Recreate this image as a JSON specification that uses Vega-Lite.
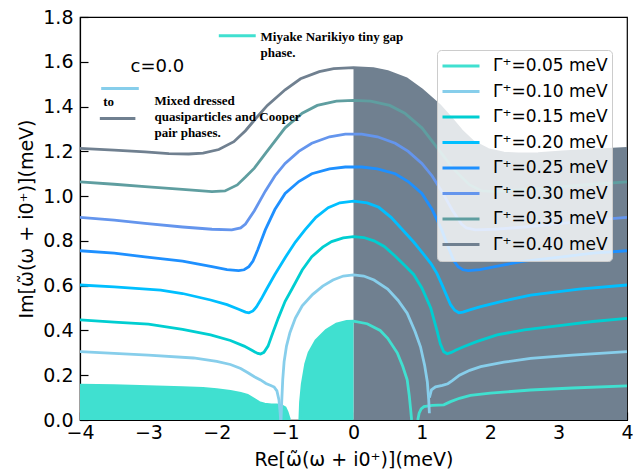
{
  "$schema": "https://vega.github.io/schema/vega-lite/v6.json",
  "width": 547,
  "height": 403,
  "autosize": "none",
  "padding": {"left": 80, "top": 17, "right": 14, "bottom": 53},
  "background": "white",
  "config": {
    "view": {"stroke": "black", "strokeWidth": 1.2},
    "font": "DejaVu Sans"
  },
  "datasets": {
    "curves": [
      {"g":"0.05","s":"a","x":-4,"y":0.156},{"g":"0.05","s":"a","x":-3.5,"y":0.153},{"g":"0.05","s":"a","x":-3,"y":0.149},{"g":"0.05","s":"a","x":-2.5,"y":0.145},{"g":"0.05","s":"a","x":-2.2,"y":0.141},{"g":"0.05","s":"a","x":-2,"y":0.136},{"g":"0.05","s":"a","x":-1.8,"y":0.128},{"g":"0.05","s":"a","x":-1.65,"y":0.119},{"g":"0.05","s":"a","x":-1.55,"y":0.11},{"g":"0.05","s":"a","x":-1.45,"y":0.092},{"g":"0.05","s":"a","x":-1.38,"y":0.078},{"g":"0.05","s":"a","x":-1.3,"y":0.071},{"g":"0.05","s":"a","x":-1.2,"y":0.068},{"g":"0.05","s":"a","x":-1.12,"y":0.067},{"g":"0.05","s":"a","x":-1.05,"y":0.063},{"g":"0.05","s":"a","x":-1.0,"y":0.055},{"g":"0.05","s":"a","x":-0.97,"y":0.035},{"g":"0.05","s":"a","x":-0.95,"y":0.015},{"g":"0.05","s":"a","x":-0.935,"y":0},
      {"g":"0.05","s":"b","x":-0.785,"y":0},{"g":"0.05","s":"b","x":-0.775,"y":0.08},{"g":"0.05","s":"b","x":-0.75,"y":0.16},{"g":"0.05","s":"b","x":-0.7,"y":0.25},{"g":"0.05","s":"b","x":-0.65,"y":0.3},{"g":"0.05","s":"b","x":-0.55,"y":0.355},{"g":"0.05","s":"b","x":-0.4,"y":0.4},{"g":"0.05","s":"b","x":-0.25,"y":0.428},{"g":"0.05","s":"b","x":-0.1,"y":0.44},{"g":"0.05","s":"b","x":0,"y":0.442},{"g":"0.05","s":"b","x":0.2,"y":0.43},{"g":"0.05","s":"b","x":0.39,"y":0.4},{"g":"0.05","s":"b","x":0.5,"y":0.365},{"g":"0.05","s":"b","x":0.64,"y":0.3},{"g":"0.05","s":"b","x":0.72,"y":0.24},{"g":"0.05","s":"b","x":0.785,"y":0.18},{"g":"0.05","s":"b","x":0.815,"y":0.11},{"g":"0.05","s":"b","x":0.835,"y":0.05},{"g":"0.05","s":"b","x":0.85,"y":0},
      {"g":"0.05","s":"c","x":0.94,"y":0},{"g":"0.05","s":"c","x":0.96,"y":0.03},{"g":"0.05","s":"c","x":0.99,"y":0.05},{"g":"0.05","s":"c","x":1.03,"y":0.06},{"g":"0.05","s":"c","x":1.15,"y":0.065},{"g":"0.05","s":"c","x":1.32,"y":0.068},{"g":"0.05","s":"c","x":1.42,"y":0.082},{"g":"0.05","s":"c","x":1.55,"y":0.097},{"g":"0.05","s":"c","x":1.71,"y":0.11},{"g":"0.05","s":"c","x":2,"y":0.12},{"g":"0.05","s":"c","x":2.59,"y":0.134},{"g":"0.05","s":"c","x":3.2,"y":0.143},{"g":"0.05","s":"c","x":4,"y":0.152},

      {"g":"0.10","s":"a","x":-4,"y":0.305},{"g":"0.10","s":"a","x":-3.5,"y":0.298},{"g":"0.10","s":"a","x":-3,"y":0.29},{"g":"0.10","s":"a","x":-2.34,"y":0.277},{"g":"0.10","s":"a","x":-2,"y":0.262},{"g":"0.10","s":"a","x":-1.8,"y":0.248},{"g":"0.10","s":"a","x":-1.65,"y":0.23},{"g":"0.10","s":"a","x":-1.55,"y":0.212},{"g":"0.10","s":"a","x":-1.45,"y":0.193},{"g":"0.10","s":"a","x":-1.36,"y":0.179},{"g":"0.10","s":"a","x":-1.28,"y":0.163},{"g":"0.10","s":"a","x":-1.21,"y":0.154},{"g":"0.10","s":"a","x":-1.16,"y":0.147},{"g":"0.10","s":"a","x":-1.12,"y":0.13},{"g":"0.10","s":"a","x":-1.09,"y":0.09},{"g":"0.10","s":"a","x":-1.075,"y":0.04},{"g":"0.10","s":"a","x":-1.065,"y":0},
      {"g":"0.10","s":"b","x":-1.06,"y":0},{"g":"0.10","s":"b","x":-1.05,"y":0.08},{"g":"0.10","s":"b","x":-1.035,"y":0.18},{"g":"0.10","s":"b","x":-1.015,"y":0.26},{"g":"0.10","s":"b","x":-0.98,"y":0.33},{"g":"0.10","s":"b","x":-0.93,"y":0.39},{"g":"0.10","s":"b","x":-0.85,"y":0.455},{"g":"0.10","s":"b","x":-0.75,"y":0.51},{"g":"0.10","s":"b","x":-0.6,"y":0.56},{"g":"0.10","s":"b","x":-0.45,"y":0.598},{"g":"0.10","s":"b","x":-0.3,"y":0.625},{"g":"0.10","s":"b","x":-0.15,"y":0.643},{"g":"0.10","s":"b","x":0,"y":0.648},{"g":"0.10","s":"b","x":0.15,"y":0.643},{"g":"0.10","s":"b","x":0.3,"y":0.625},{"g":"0.10","s":"b","x":0.5,"y":0.585},{"g":"0.10","s":"b","x":0.65,"y":0.535},{"g":"0.10","s":"b","x":0.785,"y":0.477},{"g":"0.10","s":"b","x":0.9,"y":0.395},{"g":"0.10","s":"b","x":0.98,"y":0.327},{"g":"0.10","s":"b","x":1.04,"y":0.245},{"g":"0.10","s":"b","x":1.08,"y":0.17},{"g":"0.10","s":"b","x":1.1,"y":0.09},{"g":"0.10","s":"b","x":1.11,"y":0.03},
      {"g":"0.10","s":"c","x":1.11,"y":0.1},{"g":"0.10","s":"c","x":1.14,"y":0.135},{"g":"0.10","s":"c","x":1.2,"y":0.148},{"g":"0.10","s":"c","x":1.3,"y":0.155},{"g":"0.10","s":"c","x":1.38,"y":0.162},{"g":"0.10","s":"c","x":1.45,"y":0.177},{"g":"0.10","s":"c","x":1.55,"y":0.2},{"g":"0.10","s":"c","x":1.7,"y":0.222},{"g":"0.10","s":"c","x":1.86,"y":0.238},{"g":"0.10","s":"c","x":2.2,"y":0.258},{"g":"0.10","s":"c","x":2.59,"y":0.275},{"g":"0.10","s":"c","x":3.2,"y":0.29},{"g":"0.10","s":"c","x":3.6,"y":0.298},{"g":"0.10","s":"c","x":4,"y":0.305},

      {"g":"0.15","s":"a","x":-4,"y":0.447},{"g":"0.15","s":"a","x":-3.5,"y":0.437},{"g":"0.15","s":"a","x":-3,"y":0.428},{"g":"0.15","s":"a","x":-2.5,"y":0.405},{"g":"0.15","s":"a","x":-2.09,"y":0.38},{"g":"0.15","s":"a","x":-1.8,"y":0.355},{"g":"0.15","s":"a","x":-1.6,"y":0.33},{"g":"0.15","s":"a","x":-1.48,"y":0.31},{"g":"0.15","s":"a","x":-1.4,"y":0.297},{"g":"0.15","s":"a","x":-1.36,"y":0.295},{"g":"0.15","s":"a","x":-1.31,"y":0.302},{"g":"0.15","s":"a","x":-1.25,"y":0.33},{"g":"0.15","s":"a","x":-1.18,"y":0.39},{"g":"0.15","s":"a","x":-1.1,"y":0.455},{"g":"0.15","s":"a","x":-1.0,"y":0.53},{"g":"0.15","s":"a","x":-0.9,"y":0.585},{"g":"0.15","s":"a","x":-0.75,"y":0.67},{"g":"0.15","s":"a","x":-0.61,"y":0.729},{"g":"0.15","s":"a","x":-0.45,"y":0.772},{"g":"0.15","s":"a","x":-0.32,"y":0.797},{"g":"0.15","s":"a","x":-0.15,"y":0.813},{"g":"0.15","s":"a","x":0,"y":0.819},{"g":"0.15","s":"a","x":0.15,"y":0.815},{"g":"0.15","s":"a","x":0.3,"y":0.8},{"g":"0.15","s":"a","x":0.45,"y":0.775},{"g":"0.15","s":"a","x":0.6,"y":0.735},{"g":"0.15","s":"a","x":0.75,"y":0.69},{"g":"0.15","s":"a","x":0.88,"y":0.65},{"g":"0.15","s":"a","x":1.0,"y":0.59},{"g":"0.15","s":"a","x":1.13,"y":0.5},{"g":"0.15","s":"a","x":1.22,"y":0.4},{"g":"0.15","s":"a","x":1.27,"y":0.34},{"g":"0.15","s":"a","x":1.32,"y":0.305},{"g":"0.15","s":"a","x":1.37,"y":0.296},{"g":"0.15","s":"a","x":1.43,"y":0.302},{"g":"0.15","s":"a","x":1.5,"y":0.313},{"g":"0.15","s":"a","x":1.61,"y":0.327},{"g":"0.15","s":"a","x":1.8,"y":0.35},{"g":"0.15","s":"a","x":2.1,"y":0.38},{"g":"0.15","s":"a","x":2.5,"y":0.403},{"g":"0.15","s":"a","x":3.07,"y":0.424},{"g":"0.15","s":"a","x":3.5,"y":0.44},{"g":"0.15","s":"a","x":4,"y":0.454},

      {"g":"0.20","s":"a","x":-4,"y":0.603},{"g":"0.20","s":"a","x":-3.5,"y":0.595},{"g":"0.20","s":"a","x":-2.82,"y":0.58},{"g":"0.20","s":"a","x":-2.5,"y":0.565},{"g":"0.20","s":"a","x":-2.09,"y":0.536},{"g":"0.20","s":"a","x":-1.85,"y":0.515},{"g":"0.20","s":"a","x":-1.68,"y":0.495},{"g":"0.20","s":"a","x":-1.58,"y":0.482},{"g":"0.20","s":"a","x":-1.53,"y":0.479},{"g":"0.20","s":"a","x":-1.47,"y":0.487},{"g":"0.20","s":"a","x":-1.42,"y":0.505},{"g":"0.20","s":"a","x":-1.35,"y":0.54},{"g":"0.20","s":"a","x":-1.27,"y":0.585},{"g":"0.20","s":"a","x":-1.15,"y":0.65},{"g":"0.20","s":"a","x":-1.0,"y":0.725},{"g":"0.20","s":"a","x":-0.85,"y":0.795},{"g":"0.20","s":"a","x":-0.71,"y":0.849},{"g":"0.20","s":"a","x":-0.55,"y":0.905},{"g":"0.20","s":"a","x":-0.37,"y":0.948},{"g":"0.20","s":"a","x":-0.2,"y":0.97},{"g":"0.20","s":"a","x":0,"y":0.978},{"g":"0.20","s":"a","x":0.2,"y":0.97},{"g":"0.20","s":"a","x":0.37,"y":0.95},{"g":"0.20","s":"a","x":0.55,"y":0.905},{"g":"0.20","s":"a","x":0.71,"y":0.852},{"g":"0.20","s":"a","x":0.88,"y":0.795},{"g":"0.20","s":"a","x":1.0,"y":0.75},{"g":"0.20","s":"a","x":1.13,"y":0.7},{"g":"0.20","s":"a","x":1.22,"y":0.655},{"g":"0.20","s":"a","x":1.3,"y":0.6},{"g":"0.20","s":"a","x":1.37,"y":0.55},{"g":"0.20","s":"a","x":1.42,"y":0.515},{"g":"0.20","s":"a","x":1.48,"y":0.49},{"g":"0.20","s":"a","x":1.54,"y":0.479},{"g":"0.20","s":"a","x":1.6,"y":0.482},{"g":"0.20","s":"a","x":1.7,"y":0.492},{"g":"0.20","s":"a","x":1.86,"y":0.506},{"g":"0.20","s":"a","x":2.2,"y":0.532},{"g":"0.20","s":"a","x":2.59,"y":0.558},{"g":"0.20","s":"a","x":3.3,"y":0.585},{"g":"0.20","s":"a","x":4,"y":0.603},

      {"g":"0.25","s":"a","x":-4,"y":0.756},{"g":"0.25","s":"a","x":-3.5,"y":0.745},{"g":"0.25","s":"a","x":-3.05,"y":0.729},{"g":"0.25","s":"a","x":-2.5,"y":0.71},{"g":"0.25","s":"a","x":-2.07,"y":0.685},{"g":"0.25","s":"a","x":-1.85,"y":0.672},{"g":"0.25","s":"a","x":-1.68,"y":0.667},{"g":"0.25","s":"a","x":-1.6,"y":0.671},{"g":"0.25","s":"a","x":-1.53,"y":0.685},{"g":"0.25","s":"a","x":-1.47,"y":0.71},{"g":"0.25","s":"a","x":-1.4,"y":0.76},{"g":"0.25","s":"a","x":-1.29,"y":0.849},{"g":"0.25","s":"a","x":-1.15,"y":0.94},{"g":"0.25","s":"a","x":-1.0,"y":1.012},{"g":"0.25","s":"a","x":-0.8,"y":1.065},{"g":"0.25","s":"a","x":-0.61,"y":1.1},{"g":"0.25","s":"a","x":-0.35,"y":1.122},{"g":"0.25","s":"a","x":-0.12,"y":1.13},{"g":"0.25","s":"a","x":0,"y":1.13},{"g":"0.25","s":"a","x":0.12,"y":1.13},{"g":"0.25","s":"a","x":0.35,"y":1.122},{"g":"0.25","s":"a","x":0.61,"y":1.1},{"g":"0.25","s":"a","x":0.8,"y":1.065},{"g":"0.25","s":"a","x":1.0,"y":1.012},{"g":"0.25","s":"a","x":1.15,"y":0.94},{"g":"0.25","s":"a","x":1.29,"y":0.849},{"g":"0.25","s":"a","x":1.4,"y":0.76},{"g":"0.25","s":"a","x":1.47,"y":0.71},{"g":"0.25","s":"a","x":1.53,"y":0.685},{"g":"0.25","s":"a","x":1.6,"y":0.671},{"g":"0.25","s":"a","x":1.68,"y":0.667},{"g":"0.25","s":"a","x":1.85,"y":0.672},{"g":"0.25","s":"a","x":2.07,"y":0.685},{"g":"0.25","s":"a","x":2.5,"y":0.71},{"g":"0.25","s":"a","x":3.05,"y":0.729},{"g":"0.25","s":"a","x":3.5,"y":0.745},{"g":"0.25","s":"a","x":4,"y":0.756},

      {"g":"0.30","s":"a","x":-4,"y":0.905},{"g":"0.30","s":"a","x":-3.5,"y":0.893},{"g":"0.30","s":"a","x":-3.05,"y":0.878},{"g":"0.30","s":"a","x":-2.5,"y":0.862},{"g":"0.30","s":"a","x":-2.07,"y":0.852},{"g":"0.30","s":"a","x":-1.78,"y":0.849},{"g":"0.30","s":"a","x":-1.65,"y":0.858},{"g":"0.30","s":"a","x":-1.58,"y":0.875},{"g":"0.30","s":"a","x":-1.45,"y":0.935},{"g":"0.30","s":"a","x":-1.29,"y":1.022},{"g":"0.30","s":"a","x":-1.15,"y":1.09},{"g":"0.30","s":"a","x":-1.0,"y":1.146},{"g":"0.30","s":"a","x":-0.8,"y":1.2},{"g":"0.30","s":"a","x":-0.61,"y":1.236},{"g":"0.30","s":"a","x":-0.35,"y":1.265},{"g":"0.30","s":"a","x":-0.12,"y":1.277},{"g":"0.30","s":"a","x":0,"y":1.277},{"g":"0.30","s":"a","x":0.12,"y":1.277},{"g":"0.30","s":"a","x":0.35,"y":1.265},{"g":"0.30","s":"a","x":0.61,"y":1.236},{"g":"0.30","s":"a","x":0.8,"y":1.2},{"g":"0.30","s":"a","x":1.0,"y":1.146},{"g":"0.30","s":"a","x":1.15,"y":1.09},{"g":"0.30","s":"a","x":1.29,"y":1.022},{"g":"0.30","s":"a","x":1.45,"y":0.935},{"g":"0.30","s":"a","x":1.58,"y":0.875},{"g":"0.30","s":"a","x":1.65,"y":0.858},{"g":"0.30","s":"a","x":1.78,"y":0.849},{"g":"0.30","s":"a","x":2.07,"y":0.852},{"g":"0.30","s":"a","x":2.5,"y":0.862},{"g":"0.30","s":"a","x":3.05,"y":0.878},{"g":"0.30","s":"a","x":3.5,"y":0.893},{"g":"0.30","s":"a","x":4,"y":0.905},

      {"g":"0.35","s":"a","x":-4,"y":1.064},{"g":"0.35","s":"a","x":-3.5,"y":1.053},{"g":"0.35","s":"a","x":-3.05,"y":1.042},{"g":"0.35","s":"a","x":-2.5,"y":1.03},{"g":"0.35","s":"a","x":-2.07,"y":1.02},{"g":"0.35","s":"a","x":-1.88,"y":1.023},{"g":"0.35","s":"a","x":-1.7,"y":1.05},{"g":"0.35","s":"a","x":-1.58,"y":1.085},{"g":"0.35","s":"a","x":-1.45,"y":1.125},{"g":"0.35","s":"a","x":-1.29,"y":1.19},{"g":"0.35","s":"a","x":-1.0,"y":1.305},{"g":"0.35","s":"a","x":-0.75,"y":1.37},{"g":"0.35","s":"a","x":-0.53,"y":1.405},{"g":"0.35","s":"a","x":-0.25,"y":1.424},{"g":"0.35","s":"a","x":0,"y":1.428},{"g":"0.35","s":"a","x":0.25,"y":1.424},{"g":"0.35","s":"a","x":0.53,"y":1.405},{"g":"0.35","s":"a","x":0.75,"y":1.37},{"g":"0.35","s":"a","x":1.0,"y":1.305},{"g":"0.35","s":"a","x":1.29,"y":1.19},{"g":"0.35","s":"a","x":1.45,"y":1.125},{"g":"0.35","s":"a","x":1.58,"y":1.085},{"g":"0.35","s":"a","x":1.7,"y":1.05},{"g":"0.35","s":"a","x":1.88,"y":1.023},{"g":"0.35","s":"a","x":2.07,"y":1.02},{"g":"0.35","s":"a","x":2.5,"y":1.03},{"g":"0.35","s":"a","x":3.05,"y":1.042},{"g":"0.35","s":"a","x":3.5,"y":1.053},{"g":"0.35","s":"a","x":4,"y":1.064},

      {"g":"0.40","s":"a","x":-4,"y":1.213},{"g":"0.40","s":"a","x":-3.5,"y":1.205},{"g":"0.40","s":"a","x":-3.05,"y":1.198},{"g":"0.40","s":"a","x":-2.7,"y":1.19},{"g":"0.40","s":"a","x":-2.41,"y":1.188},{"g":"0.40","s":"a","x":-2.2,"y":1.192},{"g":"0.40","s":"a","x":-1.97,"y":1.208},{"g":"0.40","s":"a","x":-1.75,"y":1.243},{"g":"0.40","s":"a","x":-1.58,"y":1.292},{"g":"0.40","s":"a","x":-1.42,"y":1.35},{"g":"0.40","s":"a","x":-1.26,"y":1.405},{"g":"0.40","s":"a","x":-1.0,"y":1.475},{"g":"0.40","s":"a","x":-0.775,"y":1.524},{"g":"0.40","s":"a","x":-0.5,"y":1.556},{"g":"0.40","s":"a","x":-0.29,"y":1.569},{"g":"0.40","s":"a","x":0,"y":1.574},{"g":"0.40","s":"a","x":0.29,"y":1.569},{"g":"0.40","s":"a","x":0.5,"y":1.556},{"g":"0.40","s":"a","x":0.775,"y":1.524},{"g":"0.40","s":"a","x":1.0,"y":1.475},{"g":"0.40","s":"a","x":1.26,"y":1.405},{"g":"0.40","s":"a","x":1.42,"y":1.35},{"g":"0.40","s":"a","x":1.58,"y":1.292},{"g":"0.40","s":"a","x":1.75,"y":1.243},{"g":"0.40","s":"a","x":1.97,"y":1.208},{"g":"0.40","s":"a","x":2.2,"y":1.192},{"g":"0.40","s":"a","x":2.41,"y":1.188},{"g":"0.40","s":"a","x":2.7,"y":1.19},{"g":"0.40","s":"a","x":3.05,"y":1.198},{"g":"0.40","s":"a","x":3.5,"y":1.205},{"g":"0.40","s":"a","x":4,"y":1.213}
    ]
  },
  "encoding": {
    "x": {
      "field": "x", "type": "quantitative",
      "scale": {"domain": [-4, 4], "nice": false, "zero": false},
      "axis": {
        "title": "Re[ω̃(ω + i0⁺)](meV)",
        "values": [-4, -3, -2, -1, 0, 1, 2, 3, 4],
        "grid": false, "tickSize": -8, "tickWidth": 1.2, "tickColor": "black",
        "domainColor": "black", "domainWidth": 1.2,
        "labelFontSize": 19, "labelColor": "black", "labelPadding": 11, "labelFlush": false,
        "titleFontSize": 19, "titleFontWeight": "normal", "titleColor": "black", "titlePadding": 8
      }
    },
    "y": {
      "field": "y", "type": "quantitative",
      "scale": {"domain": [0, 1.8], "nice": false},
      "axis": {
        "title": "Im[ω̃(ω + i0⁺)](meV)",
        "values": [0, 0.2, 0.4, 0.6, 0.8, 1.0, 1.2, 1.4, 1.6, 1.8],
        "format": ".1f",
        "grid": false, "tickSize": -8, "tickWidth": 1.2, "tickColor": "black",
        "domainColor": "black", "domainWidth": 1.2,
        "labelFontSize": 19, "labelColor": "black", "labelPadding": 15, "labelFlush": false,
        "titleFontSize": 19, "titleFontWeight": "normal", "titleColor": "black", "titlePadding": 6
      }
    }
  },
  "layer": [
    {
      "data": {"name": "curves"},
      "transform": [{"filter": "datum.g == '0.40' && datum.x >= 0"}],
      "mark": {"type": "area", "color": "#708090", "clip": true}
    },
    {
      "data": {"name": "curves"},
      "transform": [{"filter": "datum.g == '0.05' && datum.x <= 0"}],
      "mark": {"type": "area", "color": "#40e0d0", "clip": true},
      "encoding": {"detail": {"field": "s"}}
    },
    {
      "data": {"name": "curves"},
      "mark": {"type": "line", "strokeWidth": 2.8, "clip": true},
      "encoding": {
        "detail": {"field": "s"},
        "color": {
          "field": "g", "type": "nominal",
          "scale": {
            "domain": ["0.05", "0.10", "0.15", "0.20", "0.25", "0.30", "0.35", "0.40"],
            "range": ["#40e0d0", "#87ceeb", "#00ced1", "#00bfff", "#1e90ff", "#6495ed", "#5f9ea0", "#708090"]
          },
          "legend": {
            "orient": "none", "legendX": 357, "legendY": 33,
            "title": null,
            "symbolType": "stroke", "symbolSize": 1369, "symbolStrokeWidth": 3,
            "labelFontSize": 17, "labelColor": "black", "labelOffset": 12,
            "clipHeight": 24, "rowPadding": 1.5,
            "labelExpr": "'Γ⁺=' + datum.label + ' meV'",
            "fillColor": "rgba(255,255,255,0.8)", "strokeColor": "#cccccc",
            "cornerRadius": 4, "padding": 4
          }
        }
      }
    },
    {
      "data": {"values": [{"x": -3.69, "x2": -3.14, "y": 1.481}]},
      "mark": {"type": "rule", "color": "#87ceeb", "strokeWidth": 3},
      "encoding": {"x2": {"field": "x2"}}
    },
    {
      "data": {"values": [{"x": -3.71, "x2": -3.19, "y": 1.347}]},
      "mark": {"type": "rule", "color": "#708090", "strokeWidth": 3},
      "encoding": {"x2": {"field": "x2"}}
    },
    {
      "data": {"values": [{"x": -1.97, "x2": -1.43, "y": 1.716}]},
      "mark": {"type": "rule", "color": "#40e0d0", "strokeWidth": 3},
      "encoding": {"x2": {"field": "x2"}}
    },
    {
      "data": {"values": [{"x": -3.26, "y": 1.578, "t": "c=0.0"}]},
      "mark": {"type": "text", "align": "left", "baseline": "middle", "fontSize": 18, "font": "DejaVu Sans", "color": "black"},
      "encoding": {"text": {"field": "t"}}
    },
    {
      "data": {"values": [
        {"x": -3.66, "y": 1.422, "t": "to"},
        {"x": -2.91, "y": 1.426, "t": "Mixed dressed"},
        {"x": -2.91, "y": 1.354, "t": "quasiparticles and Cooper"},
        {"x": -2.91, "y": 1.283, "t": "pair phases."},
        {"x": -1.36, "y": 1.709, "t": "Miyake Narikiyo tiny gap"},
        {"x": -1.36, "y": 1.638, "t": "phase."}
      ]},
      "mark": {"type": "text", "align": "left", "baseline": "middle", "fontSize": 13, "font": "Liberation Serif", "fontWeight": "bold", "color": "black"},
      "encoding": {"text": {"field": "t"}}
    }
  ]
}
